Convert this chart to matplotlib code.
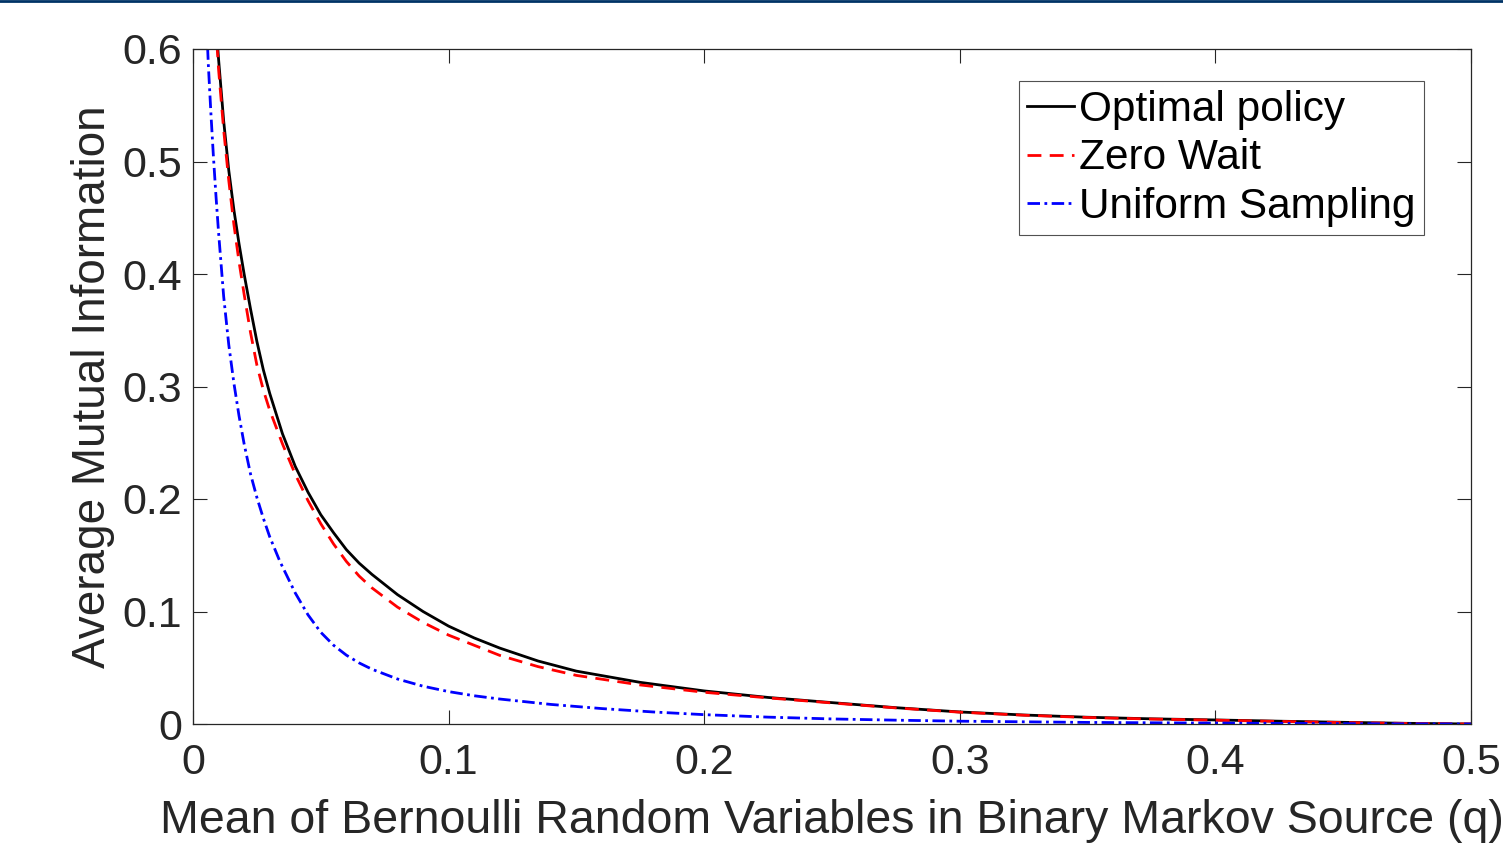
import matplotlib
matplotlib.use("Agg")
import matplotlib.pyplot as plt
from matplotlib.lines import Line2D

plt.rcParams['font.family'] = ['Liberation Sans', 'DejaVu Sans']

# Optimal policy
q_opt = [0.008, 0.009, 0.010, 0.012, 0.014, 0.016, 0.018, 0.020, 0.0225, 0.025,
         0.0275, 0.030, 0.035, 0.040, 0.045, 0.050, 0.055, 0.060, 0.065, 0.070,
         0.080, 0.090, 0.100, 0.110, 0.120, 0.135, 0.150, 0.175, 0.200, 0.225,
         0.250, 0.275, 0.300, 0.325, 0.350, 0.375, 0.400, 0.425, 0.450, 0.475, 0.500]
v_opt = [0.661, 0.623, 0.591, 0.536, 0.492, 0.457, 0.427, 0.400, 0.369, 0.340,
         0.315, 0.294, 0.258, 0.229, 0.206, 0.186, 0.170, 0.155, 0.143, 0.133,
         0.1150, 0.1000, 0.0870, 0.0765, 0.0675, 0.0560, 0.0470, 0.0370, 0.0294, 0.0236,
         0.0190, 0.0145, 0.0107, 0.0080, 0.0060, 0.0046, 0.0036, 0.0025, 0.0015, 0.0006, 0.0]

# Zero Wait
q_zw = [0.008, 0.009, 0.010, 0.012, 0.014, 0.016, 0.018, 0.020, 0.0225, 0.025,
        0.0275, 0.030, 0.035, 0.040, 0.045, 0.050, 0.055, 0.060, 0.065, 0.070,
        0.080, 0.090, 0.100, 0.110, 0.120, 0.135, 0.150, 0.175, 0.200, 0.225,
        0.250, 0.275, 0.300, 0.325, 0.350, 0.375, 0.400, 0.425, 0.450, 0.475, 0.500]
v_zw = [0.659, 0.617, 0.582, 0.528, 0.483, 0.444, 0.411, 0.382, 0.348, 0.319,
        0.297, 0.279, 0.249, 0.222, 0.1985, 0.178, 0.160, 0.1445, 0.1315, 0.121,
        0.1039, 0.0903, 0.0790, 0.0700, 0.0610, 0.0510, 0.0432, 0.0347, 0.0282, 0.0232,
        0.0187, 0.0143, 0.0105, 0.0078, 0.0058, 0.0044, 0.0034, 0.0023, 0.0013, 0.0005, 0.0]

# Uniform Sampling
q_us = [0.004, 0.005, 0.006, 0.007, 0.008, 0.009, 0.010, 0.012, 0.014, 0.016,
        0.018, 0.020, 0.0225, 0.025, 0.0275, 0.030, 0.034, 0.040, 0.045, 0.050,
        0.055, 0.060, 0.065, 0.070, 0.080, 0.090, 0.100, 0.110, 0.120, 0.140,
        0.160, 0.180, 0.200, 0.225, 0.250, 0.275, 0.300, 0.350, 0.400, 0.450, 0.500]
v_us = [0.706, 0.640, 0.586, 0.543, 0.504, 0.469, 0.437, 0.380, 0.337, 0.303,
        0.274, 0.249, 0.2223, 0.2013, 0.183, 0.1665, 0.1445, 0.1165, 0.0970, 0.0815,
        0.0700, 0.0612, 0.0543, 0.0487, 0.0400, 0.0336, 0.0288, 0.0251, 0.0222, 0.0174,
        0.0137, 0.0107, 0.0083, 0.0061, 0.0045, 0.0034, 0.0025, 0.0014, 0.0008, 0.0003, 0.0]

labels = ["Optimal policy", "Zero Wait", "Uniform Sampling"]
xticks = [0, 0.1, 0.2, 0.3, 0.4, 0.5]
xticklabels = ["0", "0.1", "0.2", "0.3", "0.4", "0.5"]
yticks = [0, 0.1, 0.2, 0.3, 0.4, 0.5, 0.6]
yticklabels = ["0", "0.1", "0.2", "0.3", "0.4", "0.5", "0.6"]

fig = plt.figure(figsize=(15.03, 8.43), dpi=100)
ax = fig.add_axes([193/1503, 1-724/843, (1471-193)/1503, (724-49)/843])

ax.plot(q_opt, v_opt, color='black', lw=2.0, label=labels[0])
ax.plot(q_zw, v_zw, color='red', lw=2.0, linestyle=(0, (5, 3)), label=labels[1])
ax.plot(q_us, v_us, color='blue', lw=2.0, linestyle=(0, (4.5, 1.6, 1.0, 1.6)), label=labels[2])

ax.set_xlim(0, 0.5)
ax.set_ylim(0, 0.6)
ax.set_xticks(xticks)
ax.set_xticklabels(xticklabels)
ax.set_yticks(yticks)
ax.set_yticklabels(yticklabels)

ax.tick_params(direction='in', length=10, width=0.8, colors='#262626',
               labelsize=31, top=True, right=True, pad=8)
ax.tick_params(axis='x', pad=14)
for s in ax.spines.values():
    s.set_color('#262626')
    s.set_linewidth(0.9)

ax.set_xlabel("Mean of Bernoulli Random Variables in Binary Markov Source (q)",
              fontsize=33.5, color='#262626', labelpad=11)
ax.set_ylabel("Average Mutual Information", fontsize=33, color='#262626', labelpad=5)

leg = ax.legend(loc='upper right', bbox_to_anchor=(0.963, 0.952), fontsize=30.5,
                frameon=True, fancybox=False, handlelength=1.1, handletextpad=0.12,
                labelspacing=0.2, borderpad=0.2, borderaxespad=0)
leg.get_frame().set_edgecolor('#262626')
leg.get_frame().set_linewidth(0.8)

fig.add_artist(Line2D([0, 1], [1 - 1/843, 1 - 1/843], color='#003366', lw=2,
                      transform=fig.transFigure))

fig.savefig("out.png", dpi=100)
